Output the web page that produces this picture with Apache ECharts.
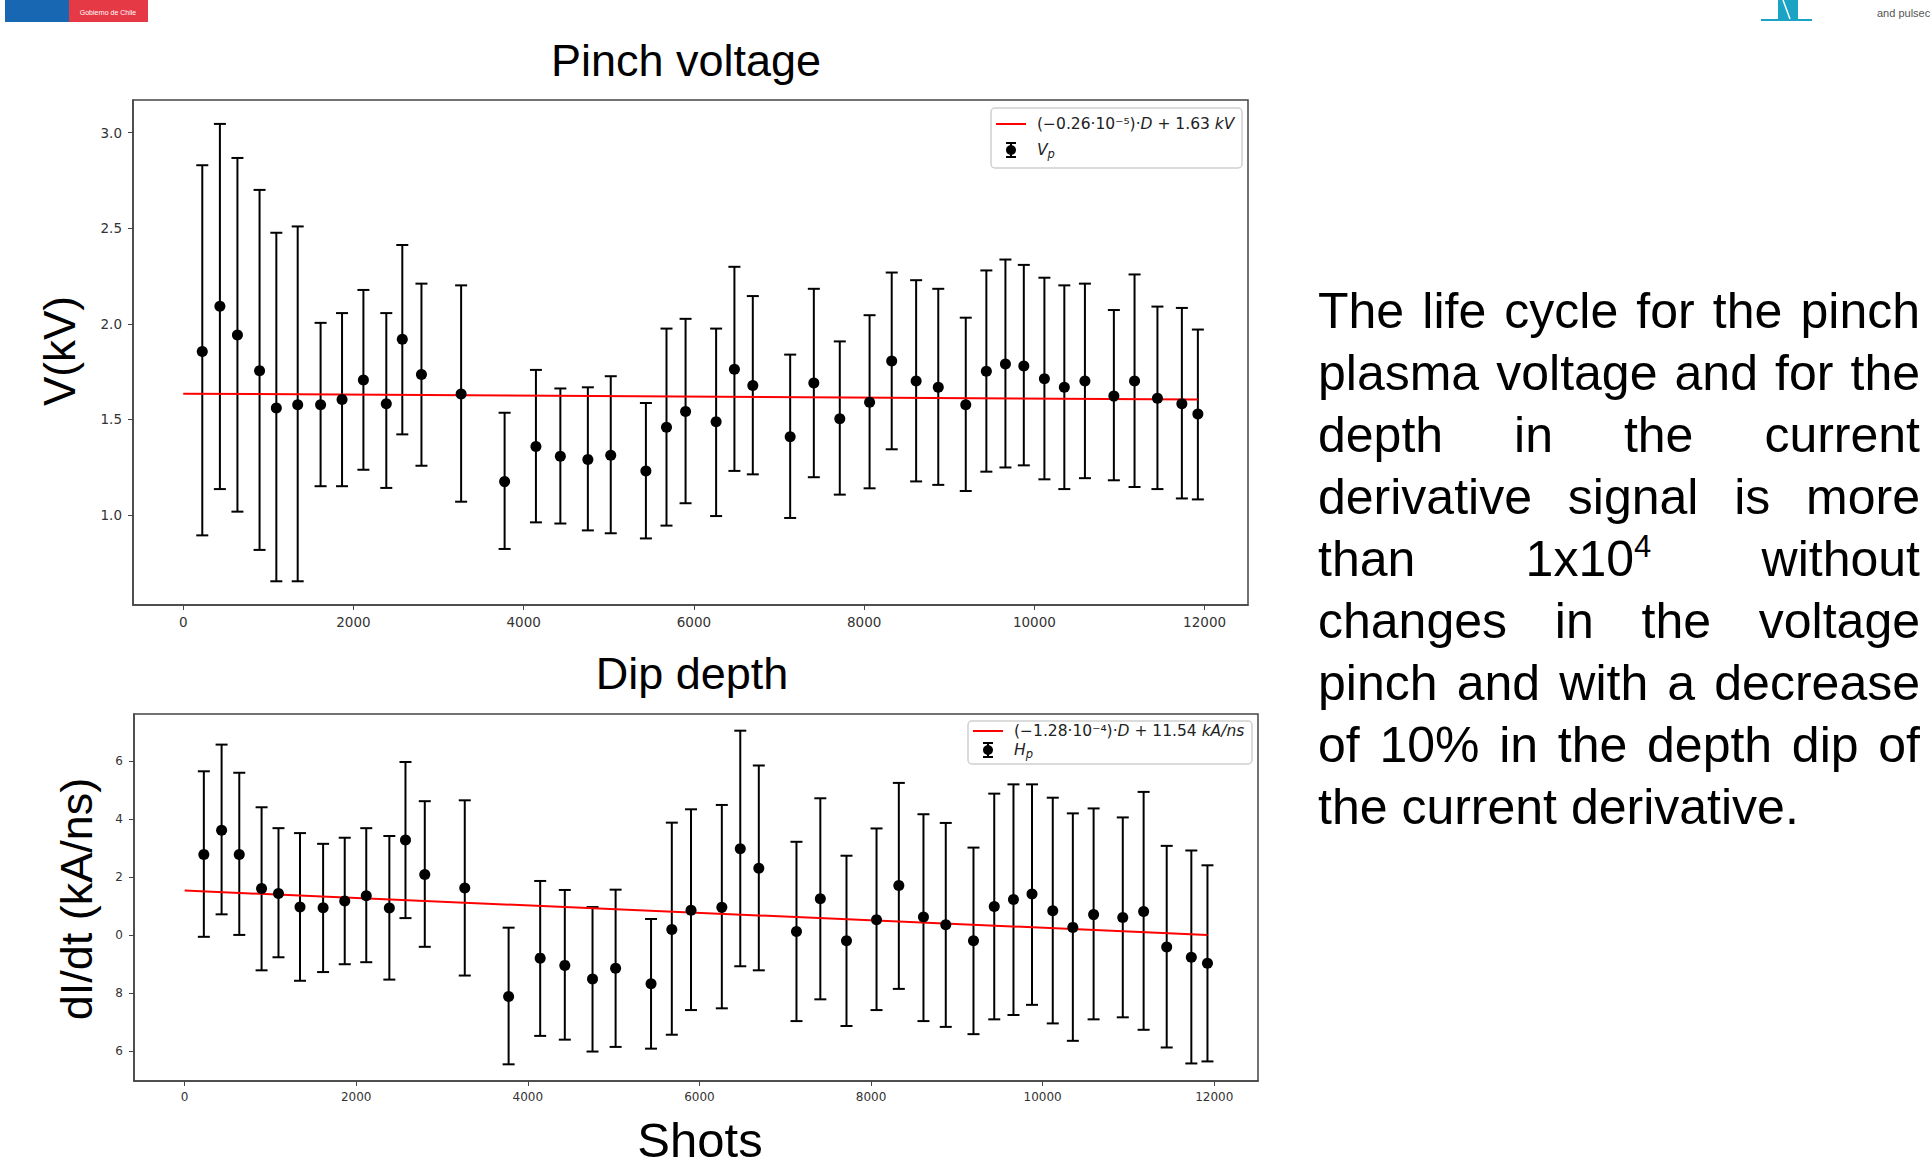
<!DOCTYPE html>
<html lang="en">
<head>
<meta charset="UTF-8">
<title>Pinch voltage / Dip depth</title>
<script src="https://cdn.jsdelivr.net/npm/echarts@6/dist/echarts.min.js"></script>
<style>
    html, body { margin: 0; padding: 0; background: #fff; }
    #main { position: absolute; left: 0; top: 0; width: 1932px; height: 1169px; }
    #note {
        position: absolute; left: 1318px; top: 280px; width: 602px;
        font-family: 'Liberation Sans', Arial, sans-serif; font-size: 50px;
        line-height: 62px; color: #000;
    }
    #note div { text-align: justify; text-align-last: justify; }
    #note div.last { text-align: left; text-align-last: left; }
    #note sup { font-size: 62%; line-height: 0; vertical-align: 0.62em; }
</style>
</head>
<body>
<div id="main"></div>
<div id="note">
    <div>The life cycle for the pinch</div>
    <div>plasma voltage and for the</div>
    <div>depth in the current</div>
    <div>derivative signal is more</div>
    <div>than 1x10<sup>4</sup> without</div>
    <div>changes in the voltage</div>
    <div>pinch and with a decrease</div>
    <div>of 10% in the depth dip of</div>
    <div class="last">the current derivative.</div>
</div>
<script type="text/javascript">
    // shots (dip depth axis), shared by both panels
    var shots = [224, 431, 637, 897, 1094, 1345, 1614, 1866, 2117, 2386, 2574, 2799, 3265, 3776, 4144,
        4431, 4754, 5023, 5436, 5678, 5902, 6261, 6476, 6692, 7131, 7409, 7714, 8064, 8324, 8611,
        8871, 9194, 9436, 9660, 9876, 10118, 10352, 10594, 10934, 11177, 11446, 11733, 11921];

    // pinch voltage (kV)
    var vpMean = [1.855, 2.092, 1.941, 1.755, 1.56, 1.577, 1.577, 1.604, 1.706, 1.582, 1.919, 1.735, 1.633, 1.175, 1.359,
        1.308, 1.291, 1.313, 1.231, 1.459, 1.542, 1.488, 1.763, 1.677, 1.409, 1.69, 1.504, 1.59, 1.806, 1.701,
        1.668, 1.577, 1.752, 1.79, 1.779, 1.713, 1.668, 1.701, 1.622, 1.701, 1.611, 1.582, 1.528];
    var vpLow = [0.894, 1.136, 1.018, 0.818, 0.654, 0.654, 1.151, 1.151, 1.237, 1.142, 1.422, 1.258, 1.07, 0.823, 0.962,
        0.956, 0.92, 0.905, 0.878, 0.945, 1.062, 0.995, 1.231, 1.213, 0.985, 1.198, 1.107, 1.14, 1.344, 1.176,
        1.158, 1.126, 1.227, 1.249, 1.26, 1.187, 1.136, 1.193, 1.182, 1.147, 1.136, 1.087, 1.082];
    var vpHigh = [2.829, 3.045, 2.867, 2.7, 2.476, 2.509, 2.005, 2.056, 2.177, 2.056, 2.412, 2.21, 2.201, 1.535, 1.759,
        1.662, 1.668, 1.726, 1.586, 1.975, 2.026, 1.975, 2.298, 2.145, 1.839, 2.183, 1.908, 2.045, 2.268, 2.228,
        2.183, 2.032, 2.279, 2.336, 2.308, 2.241, 2.201, 2.21, 2.072, 2.258, 2.09, 2.083, 1.97];
    var vpFit = [[0, 1.635], [11921, 1.604]];

    // dip depth dI/dt (kA/ns)
    var hpMean = [12.78, 13.62, 12.78, 11.61, 11.44, 10.97, 10.95, 11.18, 11.36, 10.94, 13.28, 12.09, 11.63, 7.89, 9.21,
        8.96, 8.49, 8.86, 8.33, 10.2, 10.86, 10.96, 12.98, 12.31, 10.13, 11.26, 9.81, 10.53, 11.71, 10.63,
        10.36, 9.81, 10.99, 11.23, 11.42, 10.84, 10.27, 10.71, 10.61, 10.82, 9.59, 9.24, 9.03];
    var hpLow = [9.945, 10.72, 10.01, 8.79, 9.24, 8.43, 8.73, 9.0, 9.07, 8.47, 10.59, 9.6, 8.61, 5.55, 6.53,
        6.4, 5.99, 6.15, 6.09, 6.57, 7.42, 7.48, 8.93, 8.79, 7.04, 7.79, 6.87, 7.42, 8.15, 7.04,
        6.84, 6.59, 7.1, 7.25, 7.6, 6.96, 6.36, 7.1, 7.17, 6.74, 6.13, 5.58, 5.65];
    var hpHigh = [15.65, 16.57, 15.6, 14.41, 13.69, 13.52, 13.15, 13.36, 13.69, 13.42, 15.97, 14.62, 14.65, 10.26, 11.87,
        11.56, 10.97, 11.57, 10.56, 13.88, 14.34, 14.49, 17.05, 15.85, 13.22, 14.72, 12.74, 13.68, 15.25, 14.17,
        13.87, 13.02, 14.88, 15.2, 15.2, 14.74, 14.2, 14.37, 14.06, 14.94, 13.08, 12.92, 12.41];
    var hpFit = [[0, 11.54], [11921, 10.01]];

    var xTicks = [0, 2000, 4000, 6000, 8000, 10000, 12000];
    var vpTicks = [1.0, 1.5, 2.0, 2.5, 3.0];
    var hpTicks = [6, 8, 10, 12, 14, 16];

    var SANS = "'Liberation Sans', Arial, sans-serif";
    var MPL = "'DejaVu Sans', sans-serif";

    function errorBar(params, api) {
        var x = api.value(0);
        var hi = api.coord([x, api.value(2)]);
        var lo = api.coord([x, api.value(1)]);
        var w = 6;
        var st = { stroke: '#000', lineWidth: 2 };
        return {
            type: 'group',
            children: [
                { type: 'line', shape: { x1: hi[0], y1: hi[1], x2: lo[0], y2: lo[1] }, style: st },
                { type: 'line', shape: { x1: hi[0] - w, y1: hi[1], x2: hi[0] + w, y2: hi[1] }, style: st },
                { type: 'line', shape: { x1: lo[0] - w, y1: lo[1], x2: lo[0] + w, y2: lo[1] }, style: st }
            ]
        };
    }

    function zipBars(low, high) {
        return shots.map(function (d, i) { return [d, low[i], high[i]]; });
    }
    function zipPts(mean) {
        return shots.map(function (d, i) { return [d, mean[i]]; });
    }

    function xAxisFor(idx, fs) {
        return {
            gridIndex: idx, type: 'value', min: -590, max: 12510,
            axisLine: { show: true, onZero: false, lineStyle: { color: '#444', width: 1.5 } },
            axisTick: { show: true, customValues: xTicks, length: 5, lineStyle: { color: '#444' } },
            axisLabel: { customValues: xTicks, color: '#333', fontFamily: MPL, fontSize: fs, margin: 10,
                         formatter: function (v) { return String(v); } },
            splitLine: { show: false }
        };
    }

    // legend box with fit line and error bar marker
    function legendBox(x, y, w, h, row1, row2, fitText, ptName, fs) {
        var ix = x + 20;
        return [
            { type: 'rect', shape: { x: x, y: y, width: w, height: h, r: 4 },
              style: { fill: '#fff', stroke: '#d0d0d0', lineWidth: 1.5 }, z: 10 },
            { type: 'line', shape: { x1: x + 5, y1: row1, x2: x + 35, y2: row1 },
              style: { stroke: '#ff0000', lineWidth: 2 }, z: 11 },
            { type: 'text', x: x + 46, y: row1, z: 11,
              style: { text: fitText, fontFamily: MPL, fontSize: fs, fill: '#222', verticalAlign: 'middle',
                       rich: { i: { fontStyle: 'italic', fontFamily: MPL, fontSize: fs, fill: '#222' } } } },
            { type: 'line', shape: { x1: ix, y1: row2 - 7, x2: ix, y2: row2 + 7 }, style: { stroke: '#000', lineWidth: 2 }, z: 11 },
            { type: 'line', shape: { x1: ix - 5, y1: row2 - 7, x2: ix + 5, y2: row2 - 7 }, style: { stroke: '#000', lineWidth: 2 }, z: 11 },
            { type: 'line', shape: { x1: ix - 5, y1: row2 + 7, x2: ix + 5, y2: row2 + 7 }, style: { stroke: '#000', lineWidth: 2 }, z: 11 },
            { type: 'circle', shape: { cx: ix, cy: row2, r: 5 }, style: { fill: '#000' }, z: 11 },
            { type: 'text', x: x + 46, y: row2, z: 11,
              style: { text: ptName + '{s|p}', fontFamily: MPL, fontStyle: 'italic', fontSize: fs, fill: '#222',
                       verticalAlign: 'middle',
                       rich: { s: { fontStyle: 'italic', fontFamily: MPL, fontSize: fs - 4, fill: '#222', padding: [8, 0, 0, 0] } } } }
        ];
    }

    var myChart = echarts.init(document.getElementById('main'), null, { renderer: 'svg' });

    var option = {
        backgroundColor: '#fff',
        animation: false,
        grid: [
            { left: 133, top: 100, width: 1115, height: 505, show: true, borderColor: '#444', borderWidth: 1.5 },
            { left: 134, top: 714, width: 1124, height: 367, show: true, borderColor: '#444', borderWidth: 1.5 }
        ],
        xAxis: [xAxisFor(0, 13.5), xAxisFor(1, 12)],
        yAxis: [
            {
                gridIndex: 0, type: 'value', min: 0.53, max: 3.17,
                axisLine: { show: true, onZero: false, lineStyle: { color: '#444', width: 1.5 } },
                axisTick: { show: true, customValues: vpTicks, length: 5, lineStyle: { color: '#444' } },
                axisLabel: { customValues: vpTicks, color: '#333', fontFamily: MPL, fontSize: 13.5, margin: 11,
                             formatter: function (v) { return v.toFixed(1); } },
                splitLine: { show: false }
            },
            {
                gridIndex: 1, type: 'value', min: 4.975, max: 17.625,
                axisLine: { show: true, onZero: false, lineStyle: { color: '#444', width: 1.5 } },
                axisTick: { show: true, customValues: hpTicks, length: 5, lineStyle: { color: '#444' } },
                // the slide crops the leading digit of the tick labels
                axisLabel: { customValues: hpTicks, color: '#333', fontFamily: MPL, fontSize: 12, margin: 11,
                             formatter: function (v) { return String(Math.round(v) % 10); } },
                splitLine: { show: false }
            }
        ],
        series: [
            { name: 'Vp err', type: 'custom', xAxisIndex: 0, yAxisIndex: 0, renderItem: errorBar,
              encode: { x: 0, y: [1, 2] }, data: zipBars(vpLow, vpHigh), z: 2 },
            { name: 'Vp fit', type: 'line', xAxisIndex: 0, yAxisIndex: 0, data: vpFit, showSymbol: false,
              lineStyle: { color: '#ff0000', width: 2 }, z: 3 },
            { name: 'Vp', type: 'scatter', xAxisIndex: 0, yAxisIndex: 0, data: zipPts(vpMean), symbolSize: 11,
              itemStyle: { color: '#000', opacity: 1 }, z: 4 },
            { name: 'Hp err', type: 'custom', xAxisIndex: 1, yAxisIndex: 1, renderItem: errorBar,
              encode: { x: 0, y: [1, 2] }, data: zipBars(hpLow, hpHigh), z: 2 },
            { name: 'Hp fit', type: 'line', xAxisIndex: 1, yAxisIndex: 1, data: hpFit, showSymbol: false,
              lineStyle: { color: '#ff0000', width: 2 }, z: 3 },
            { name: 'Hp', type: 'scatter', xAxisIndex: 1, yAxisIndex: 1, data: zipPts(hpMean), symbolSize: 11,
              itemStyle: { color: '#000', opacity: 1 }, z: 4 }
        ],
        graphic: [
            // slide header
            { type: 'rect', shape: { x: 5, y: 0, width: 64, height: 22 }, style: { fill: '#1767b3' } },
            { type: 'rect', shape: { x: 69, y: 0, width: 79, height: 22 }, style: { fill: '#e63946' } },
            { type: 'text', x: 108, y: 12, style: { text: 'Gobierno de Chile', fill: '#fff', fontSize: 7,
              fontFamily: SANS, align: 'center', verticalAlign: 'middle' } },
            { type: 'rect', shape: { x: 1761, y: 19, width: 51, height: 2 }, style: { fill: '#1aa3c4' } },
            { type: 'rect', shape: { x: 1778, y: 0, width: 20, height: 20 }, style: { fill: '#1aa3c4' } },
            { type: 'line', shape: { x1: 1783, y1: 0, x2: 1790, y2: 19 }, style: { stroke: '#fff', lineWidth: 1.5 } },
            { type: 'text', x: 1877, y: 13, style: { text: 'and pulsec', fill: '#555', fontSize: 11,
              fontFamily: SANS, verticalAlign: 'middle' } },

            // titles and axis names
            { type: 'text', x: 686, y: 60, style: { text: 'Pinch voltage', fill: '#000', fontSize: 45,
              fontFamily: SANS, align: 'center', verticalAlign: 'middle' } },
            { type: 'text', x: 692, y: 673, style: { text: 'Dip depth', fill: '#000', fontSize: 45,
              fontFamily: SANS, align: 'center', verticalAlign: 'middle' } },
            { type: 'text', x: 700, y: 1140, style: { text: 'Shots', fill: '#000', fontSize: 49,
              fontFamily: SANS, align: 'center', verticalAlign: 'middle' } },
            { type: 'text', x: 59, y: 351, rotation: Math.PI / 2, style: { text: 'V(kV)', fill: '#000', fontSize: 44,
              fontFamily: SANS, align: 'center', verticalAlign: 'middle' } },
            { type: 'text', x: 76, y: 899, rotation: Math.PI / 2, style: { text: 'dI/dt (kA/ns)', fill: '#000', fontSize: 45,
              fontFamily: SANS, align: 'center', verticalAlign: 'middle' } }
        ].concat(
            legendBox(991, 108, 251, 60, 124, 150, '(−0.26·10⁻⁵)·{i|D} + 1.63 {i|kV}', 'V', 15.5),
            legendBox(968, 721, 284, 43, 731, 750, '(−1.28·10⁻⁴)·{i|D} + 11.54 {i|kA/ns}', 'H', 15.5)
        )
    };

    myChart.setOption(option);
</script>
</body>
</html>
